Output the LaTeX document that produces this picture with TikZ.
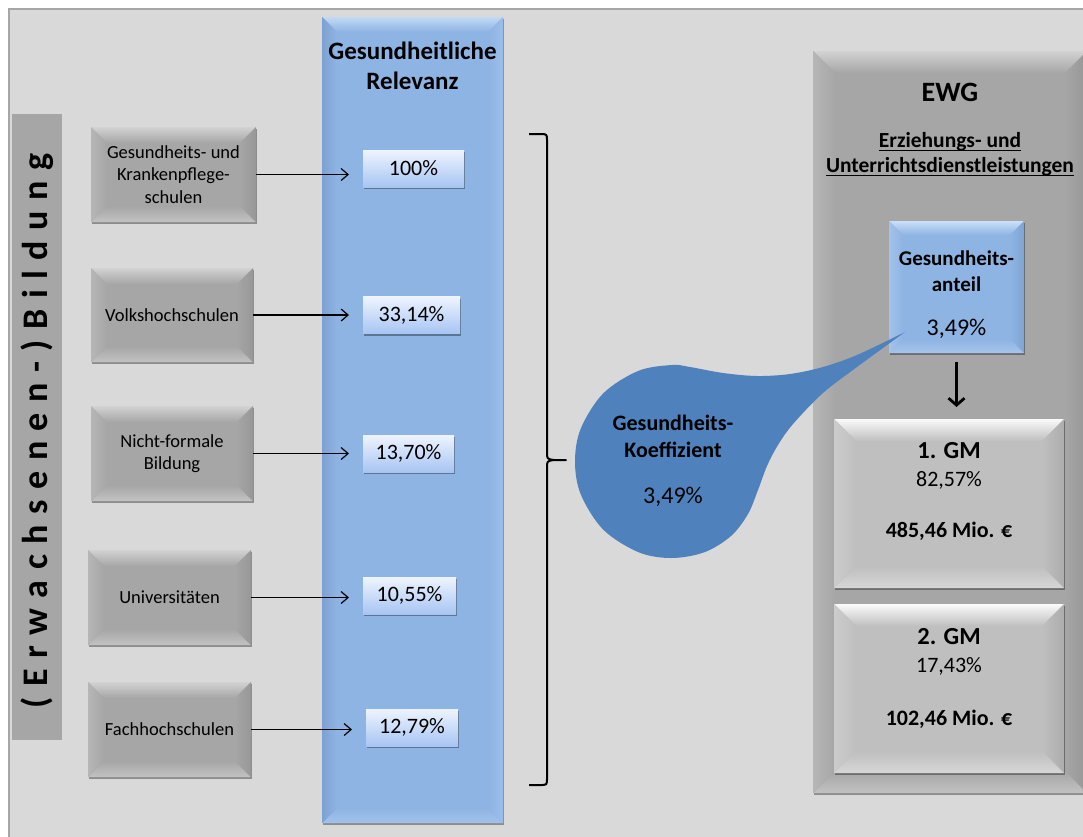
\documentclass[tikz,border=0pt]{standalone}
\usepackage{fontspec}
\setmainfont{Carlito}
\usetikzlibrary{arrows.meta,shadows,calc}

% palette
\definecolor{canvas}{HTML}{D9D9D9}
\definecolor{frame}{HTML}{A6A6A6}
\definecolor{boxgray}{HTML}{A6A6A6}
\definecolor{boxgraytop}{HTML}{D2D2D2}
\definecolor{boxgraybot}{HTML}{C2C2C2}
\definecolor{boxgrayleft}{HTML}{B6B6B6}
\definecolor{boxgrayright}{HTML}{979797}
\definecolor{gmgray}{HTML}{BFBFBF}
\definecolor{gmtop}{HTML}{FAFAFA}
\definecolor{gmbot}{HTML}{D6D6D6}
\definecolor{gmleft}{HTML}{CCCCCC}
\definecolor{gmright}{HTML}{ADADAD}
\definecolor{relblue}{HTML}{8EB4E3}
\definecolor{relbluetop}{HTML}{C3D9F5}
\definecolor{relbluebot}{HTML}{A2C1EA}
\definecolor{relblueleft}{HTML}{7DA2D2}
\definecolor{relblueright}{HTML}{9CBEE9}
\definecolor{gatop}{HTML}{CADFF8}
\definecolor{gabot}{HTML}{A6C4EB}
\definecolor{galeft}{HTML}{A3C2EC}
\definecolor{garight}{HTML}{7FA5D5}
\definecolor{pcttop}{HTML}{EEF4FE}
\definecolor{pctbot}{HTML}{A7C5F3}
\definecolor{dropblue}{HTML}{4F81BD}

\newcommand\fs[2]{\fontsize{#1pt}{#2pt}\selectfont}
% underline a little below the baseline, through the descenders
\newcommand\uln[1]{\setbox0\hbox{#1}\rlap{\vrule height -2.6pt depth 4.0pt width \wd0}\box0}
\newcommand\gp{\hspace{10.5pt}}

\tikzset{
  every node/.style={inner sep=0pt, outer sep=0pt},
  % bevelled rectangle: base, top, bottom, left, right, bevel depth
  bevel/.style n args={6}{fill=#1, path picture={
      \path (path picture bounding box.north west) coordinate (bvNW)
            (path picture bounding box.north east) coordinate (bvNE)
            (path picture bounding box.south west) coordinate (bvSW)
            (path picture bounding box.south east) coordinate (bvSE);
      \shade[top color=#2, bottom color=#1] (bvNW) -- (bvNE) -- ([shift={(-#6,#6)}]bvNE) -- ([shift={(#6,#6)}]bvNW) -- cycle;
      \shade[top color=#1, bottom color=#3] (bvSW) -- (bvSE) -- ([shift={(-#6,-#6)}]bvSE) -- ([shift={(#6,-#6)}]bvSW) -- cycle;
      \shade[left color=#4, right color=#1] (bvNW) -- ([shift={(#6,#6)}]bvNW) -- ([shift={(#6,-#6)}]bvSW) -- (bvSW) -- cycle;
      \shade[left color=#1, right color=#5] (bvNE) -- ([shift={(-#6,#6)}]bvNE) -- ([shift={(-#6,-#6)}]bvSE) -- (bvSE) -- cycle;
    }},
  softshadow/.style={drop shadow={shadow xshift=1.2pt, shadow yshift=-2.4pt, opacity=0.35, fill=black}},
  graybox/.style={bevel={boxgray}{boxgraytop}{boxgraybot}{boxgrayleft}{boxgrayright}{16},
    softshadow, align=center, font=\fs{18.5}{22.6}},
  gmbox/.style={bevel={gmgray}{gmtop}{gmbot}{gmleft}{gmright}{22},
    softshadow, minimum width=230pt, minimum height=169pt},
  pctbox/.style={top color=pcttop, bottom color=pctbot, softshadow,
    minimum height=37pt, font=\fs{22}{26}},
  conn/.style={line width=1.2pt, -{Straight Barb[length=7pt,width=12pt]}, shorten >=14pt},
}

\begin{document}
\begin{tikzpicture}[x=1pt,y=-1pt]
\useasboundingbox (0,0) rectangle (1083,836);
\clip (0,0) rectangle (1083,836);
\fill[white] (0,0) rectangle (1083,836);
\draw[frame, line width=2pt, fill=canvas] (9,9) rectangle (1100,850);

% vertical caption bar
\node[fill=boxgray, minimum width=50pt, minimum height=626pt] (side) at (37,427) {};
\node[rotate=90, font=\bfseries\fs{36}{40}] (sidetext) at (37,431)
  {(\gp E\gp r\gp w\gp a\gp c\gp h\gp s\gp e\gp n\gp e\gp n\gp -\gp )\gp B\gp i\gp l\gp d\gp u\gp n\gp g};

% health relevance column
\node[bevel={relblue}{relbluetop}{relbluebot}{relblueleft}{relblueright}{15}, softshadow,
      minimum width=181pt, minimum height=806pt] (rel) at (412.5,420) {};
\node[align=center, font=\bfseries\fs{25}{30}] (reltitle) at (412.5,66) {Gesundheitliche\\Relevanz};

% education providers
\node[graybox, minimum width=165pt, minimum height=95pt] (g1) at (173.5,174.5) {Gesundheits- und\\Krankenpflege-\\schulen};
\node[graybox, minimum width=162pt, minimum height=94pt] (g2) at (172,315) {Volkshochschulen};
\node[graybox, minimum width=162pt, minimum height=95pt] (g3) at (172,453.5) {Nicht-formale\\Bildung};
\node[graybox, minimum width=163pt, minimum height=95pt] (g4) at (169.5,597.5) {Universitäten};
\node[graybox, minimum width=163pt, minimum height=95pt] (g5) at (169.5,729.5) {Fachhochschulen};

% relevance shares
\node[pctbox, minimum width=101pt] (p1) at (413.5,168.5) {100\%};
\node[pctbox, minimum width=97pt]  (p2) at (411.5,315) {33,14\%};
\node[pctbox, minimum width=91pt]  (p3) at (408.5,453.5) {13,70\%};
\node[pctbox, minimum width=93pt]  (p4) at (409.5,595.5) {10,55\%};
\node[pctbox, minimum width=92pt]  (p5) at (412,727.5) {12,79\%};

\foreach \i in {1,...,5}
  \draw[conn] (g\i.east) -- (g\i.east -| p\i.west);

% curly brace gathering the shares
\coordinate (bracetip) at (566,460);
\draw[line width=2pt, line join=round]
  (529,134) -- (540,134) .. controls (547,134) .. (547,141) -- (547,452)
  .. controls (547,459) .. (554,460) -- (bracetip) -- (554,460)
  .. controls (547,461) .. (547,468) -- (547,778)
  .. controls (547,785) .. (540,785) -- (529,785);

% EWG panel
\node[bevel={boxgray}{boxgraytop}{boxgraybot}{boxgrayleft}{boxgrayright}{22}, softshadow,
      minimum width=274pt, minimum height=742pt] (ewg) at (950,422) {};
\node[font=\bfseries\fs{28}{32}] (ewgtitle) at (950,92) {EWG};
\node[align=center, font=\bfseries\fs{21.5}{25}] (ewgsub) at (950,154) {\uln{Erziehungs- und}\\\uln{Unterrichtsdienstleistungen}};

\node[bevel={relblue}{gatop}{gabot}{galeft}{garight}{14}, softshadow,
      minimum width=135pt, minimum height=132pt] (ga) at (956.5,287) {};
\node[align=center, font=\bfseries\fs{21}{26}] (gatitle) at (956.5,271) {Gesundheits-\\anteil};
\node[font=\fs{24}{28}] (gaval) at (956.5,329) {3,49\%};

\node[gmbox] (gm1) at (949,503.5) {};
\node[gmbox] (gm2) at (949,688.5) {};
\draw[line width=2.8pt, -{Straight Barb[length=7pt,width=16pt]}, shorten <=9pt, shorten >=12pt]
  (ga.south) -- (ga.south |- gm1.north);

\node[font=\bfseries\fs{24.5}{28}] (gm1a) at (949,451) {1. GM};
\node[font=\fs{22}{26}] (gm1b) at (949,480) {82,57\%};
\node[font=\bfseries\fs{22}{26}] (gm1c) at (949,531) {485,46 Mio. €};
\node[font=\bfseries\fs{24.5}{28}] (gm2a) at (949,637) {2. GM};
\node[font=\fs{22}{26}] (gm2b) at (949,666) {17,43\%};
\node[font=\bfseries\fs{22}{26}] (gm2c) at (949,719) {102,46 Mio. €};

% coefficient drop, its tail reaching into the share box
\fill[dropblue] plot[smooth, tension=0.55] coordinates {
  (905,332) (857,355) (823,367) (790,374) (757,376) (723,373) (690,367) (672,365)
  (638.5,370.8) (603.3,393.3) (580.8,428.5) (575,461.5) (580.8,494.5) (603.3,529.7)
  (638.5,552.2) (671.5,558) (704.5,552.2) (731,536) (748,514) (758,490)
  (767,466) (778,445) (793,424) (823,393) (857,367) (905,332)} -- cycle;
\node[align=center, font=\bfseries\fs{22}{27}] (koef) at (673,436) {Gesundheits-\\Koeffizient};
\node[font=\fs{24}{28}] (koefval) at (673,497) {3,49\%};
\end{tikzpicture}
\end{document}
